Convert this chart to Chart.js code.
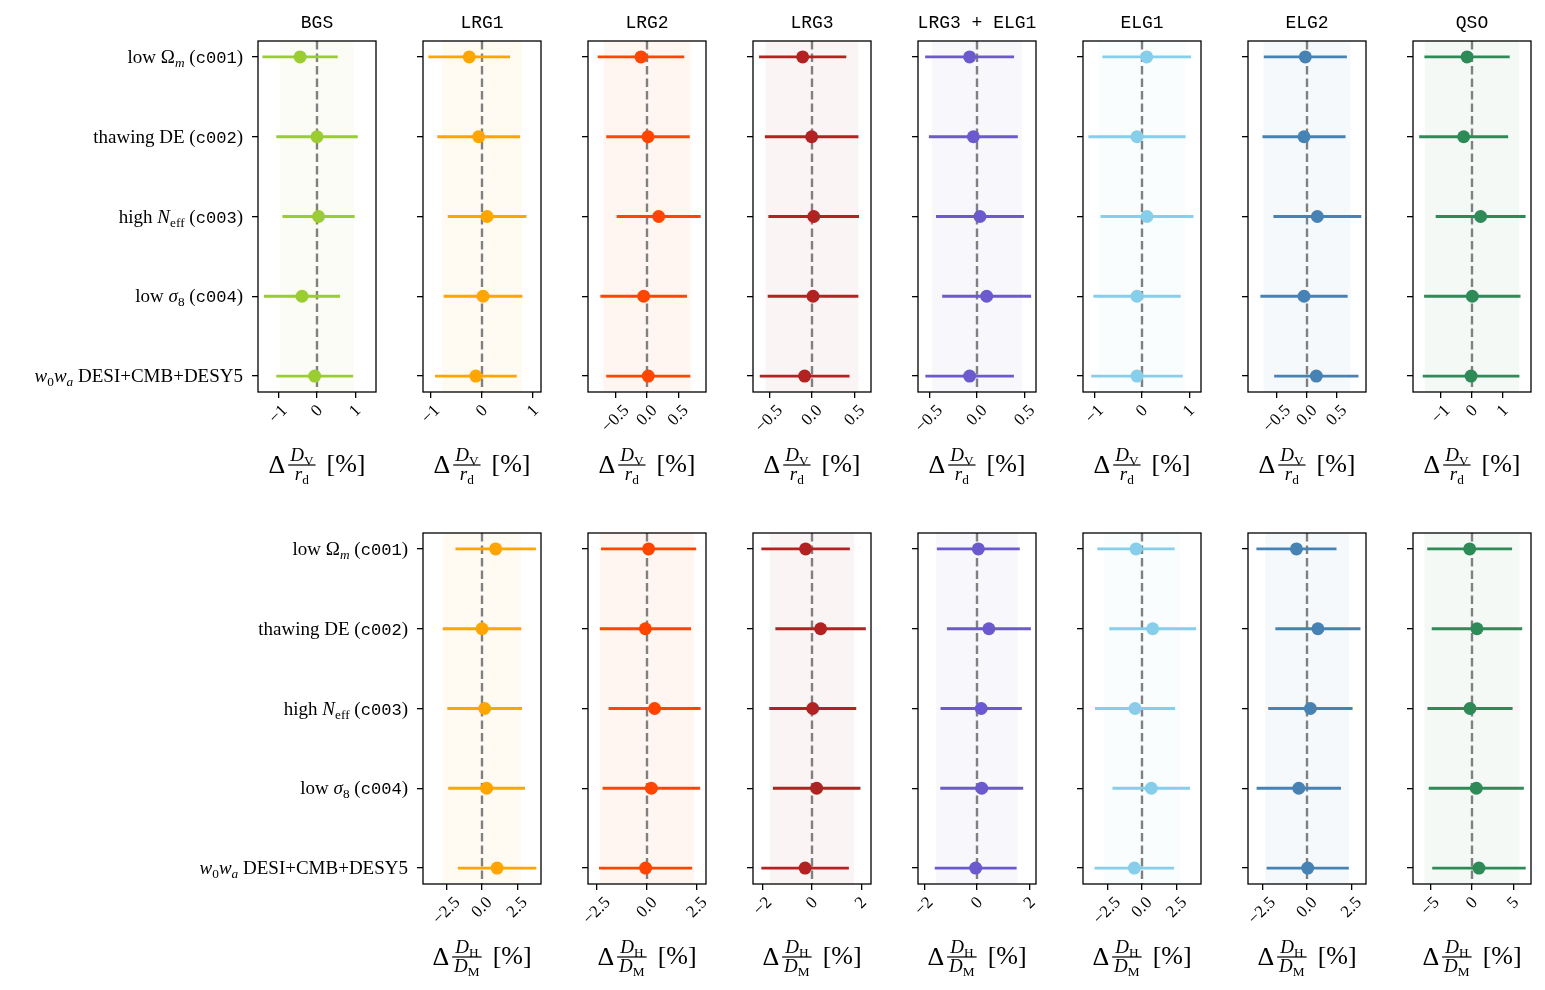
<!DOCTYPE html>
<html><head><meta charset="utf-8">
<script src="https://cdn.jsdelivr.net/npm/chart.js@4.4.1/dist/chart.umd.min.js"></script>
<style>
html,body{margin:0;padding:0;background:#fff;overflow:hidden;width:1545px;height:990px;position:relative}
canvas{position:absolute}
</style></head><body>
<script>
// ---------- categories / labels ----------
const categories = [
  'low Ω_{*m*} (`c001`)',
  'thawing DE (`c002`)',
  'high *N*_{eff} (`c003`)',
  'low *σ*_{8} (`c004`)',
  '*w*_{0}*w*_{*a*} DESI+CMB+DESY5'
];
const tracersTop = ['BGS','LRG1','LRG2','LRG3','LRG3 + ELG1','ELG1','ELG2','QSO'];
const tracersBottom = ['LRG1','LRG2','LRG3','LRG3 + ELG1','ELG1','ELG2','QSO'];
const xLabelTop = {num:'*D*_{V}', den:'*r*_{d}'};
const xLabelBottom = {num:'*D*_{H}', den:'*D*_{M}'};

// ---------- Δ(D_V/r_d) [%] : centres and 1σ errors ----------
const dvBGS = [-0.44, 0.00, 0.04, -0.39, -0.06];
const dvBGSErr = [0.98, 1.06, 0.94, 0.99, 1.00];
const dvLRG1 = [-0.25, -0.065, 0.10, 0.02, -0.12];
const dvLRG1Err = [0.80, 0.81, 0.77, 0.77, 0.80];
const dvLRG2 = [-0.096, 0.016, 0.186, -0.053, 0.02];
const dvLRG2Err = [0.69, 0.665, 0.67, 0.69, 0.67];
const dvLRG3 = [-0.109, -0.004, 0.02, 0.012, -0.086];
const dvLRG3Err = [0.51, 0.547, 0.53, 0.53, 0.525];
const dvLRG3ELG1 = [-0.077, -0.038, 0.031, 0.101, -0.077];
const dvLRG3ELG1Err = [0.465, 0.465, 0.46, 0.465, 0.463];
const dvELG1 = [0.10, -0.106, 0.106, -0.106, -0.106];
const dvELG1Err = [0.94, 1.03, 0.985, 0.925, 0.97];
const dvELG2 = [-0.028, -0.05, 0.173, -0.05, 0.156];
const dvELG2Err = [0.695, 0.695, 0.735, 0.73, 0.705];
const dvQSO = [-0.16, -0.27, 0.28, 0.01, -0.03];
const dvQSOErr = [1.38, 1.44, 1.455, 1.56, 1.565];
const dvLimit = [1.535, 1.155, 0.94, 0.69, 0.617, 1.25, 0.987, 1.91];
const dvBand = [0.955, 0.78, 0.695, 0.543, 0.47, 0.92, 0.726, 1.53];
const dvTicks = [[-1,0,1],[-1,0,1],[-0.5,0,0.5],[-0.5,0,0.5],[-0.5,0,0.5],[-1,0,1],[-0.5,0,0.5],[-1,0,1]];

// ---------- Δ(D_H/D_M) [%] ----------
const dhLRG1 = [0.97, 0.00, 0.19, 0.33, 1.07];
const dhLRG1Err = [2.85, 2.78, 2.65, 2.72, 2.78];
const dhLRG2 = [0.08, -0.08, 0.38, 0.22, -0.07];
const dhLRG2Err = [2.38, 2.28, 2.30, 2.44, 2.33];
const dhLRG3 = [-0.26, 0.35, 0.03, 0.19, -0.28];
const dhLRG3Err = [1.80, 1.84, 1.77, 1.78, 1.78];
const dhLRG3ELG1 = [0.05, 0.45, 0.16, 0.18, -0.05];
const dhLRG3ELG1Err = [1.57, 1.59, 1.54, 1.57, 1.55];
const dhELG1 = [-0.43, 0.77, -0.50, 0.67, -0.55];
const dhELG1Err = [2.78, 3.12, 2.88, 2.79, 2.86];
const dhELG2 = [-0.59, 0.61, 0.19, -0.46, 0.04];
const dhELG2Err = [2.24, 2.38, 2.36, 2.36, 2.30];
const dhQSO = [-0.28, 0.60, -0.24, 0.52, 0.84];
const dhQSOErr = [5.12, 5.46, 5.14, 5.74, 5.64];
const dhLimit = [4.18, 2.95, 2.40, 2.235, 4.24, 3.30, 7.12];
const dhBand = [2.74, 2.35, 1.72, 1.55, 2.73, 2.34, 5.72];
const dhTicks = [[-2.5,0,2.5],[-2.5,0,2.5],[-2,0,2],[-2,0,2],[-2.5,0,2.5],[-2.5,0,2.5],[-5,0,5]];

// ---------- colours ----------
const tracerColors = {
  'BGS':'#9ACD32','LRG1':'#FFA500','LRG2':'#FF4500','LRG3':'#B22222',
  'LRG3 + ELG1':'#6A5ACD','ELG1':'#87CEEB','ELG2':'#4682B4','QSO':'#2E8B57'
};

const dvCentres = [dvBGS, dvLRG1, dvLRG2, dvLRG3, dvLRG3ELG1, dvELG1, dvELG2, dvQSO];
const dvErrors = [dvBGSErr, dvLRG1Err, dvLRG2Err, dvLRG3Err, dvLRG3ELG1Err, dvELG1Err, dvELG2Err, dvQSOErr];
const dhCentres = [dhLRG1, dhLRG2, dhLRG3, dhLRG3ELG1, dhELG1, dhELG2, dhQSO];
const dhErrors = [dhLRG1Err, dhLRG2Err, dhLRG3Err, dhLRG3ELG1Err, dhELG1Err, dhELG2Err, dhQSOErr];

// ---------- rich text helpers ----------
const SERIF = '"Liberation Serif", "DejaVu Serif", serif';
const MONO = '"Liberation Mono", "DejaVu Sans Mono", monospace';
function parseRich(s){
  const segs=[]; let it=false, mono=false, sub=false, buf='';
  const push=()=>{ if(buf){ segs.push({t:buf,it,mono,sub}); buf=''; } };
  for(let i=0;i<s.length;i++){
    const ch=s[i];
    if(ch==='*'){ push(); it=!it; }
    else if(ch==='`'){ push(); mono=!mono; }
    else if(ch==='_' && s[i+1]==='{'){ push(); sub=true; i++; }
    else if(ch==='}' && sub){ push(); sub=false; }
    else buf+=ch;
  }
  push(); return segs;
}
function segFont(sg,size){
  const sz = sg.sub ? size*0.7 : size;
  if(sg.mono) return (sz*0.9).toFixed(2)+'px '+MONO;
  return (sg.it?'italic ':'')+sz.toFixed(2)+'px '+SERIF;
}
function richWidth(ctx,segs,size){
  let w=0; for(const sg of segs){ ctx.font=segFont(sg,size); w+=ctx.measureText(sg.t).width; } return w;
}
function drawRich(ctx,segs,x,y,size){
  ctx.textAlign='left'; ctx.textBaseline='alphabetic';
  let cx=x;
  for(const sg of segs){
    ctx.font=segFont(sg,size);
    ctx.fillText(sg.t, cx, y + (sg.sub ? size*0.22 : 0));
    cx+=ctx.measureText(sg.t).width;
  }
}
function fmtTick(v,arr){
  const dec=Math.max(...arr.map(t=>(String(t).split('.')[1]||'').length));
  return (v<0?'\u2212':'')+Math.abs(v).toFixed(dec);
}
function hexA(hex,a){
  const n=parseInt(hex.slice(1),16);
  return `rgba(${(n>>16)&255},${(n>>8)&255},${n&255},${a})`;
}

// ---------- panel factory ----------
function makePanel(p){
  const MR=14, TOP=40, BOT=100;
  const W=p.ML+p.plotW+MR, H=TOP+p.plotH+BOT;
  const cv=document.createElement('canvas');
  cv.width=W; cv.height=H;
  cv.style.left=(p.left-p.ML)+'px'; cv.style.top=(p.top-TOP)+'px';
  cv.style.width=W+'px'; cv.style.height=H+'px';
  document.body.appendChild(cv);
  const col=tracerColors[p.tracer];

  const datasets=[];
  datasets.push({label:p.tracer, data:p.centres.map((c,i)=>({x:c,y:i})),
    backgroundColor:col, borderColor:col, pointBackgroundColor:col, pointBorderColor:col,
    pointRadius:6.5, pointBorderWidth:0, showLine:false, order:0});
  p.centres.forEach((c,i)=>{
    datasets.push({label:p.tracer+' err '+i, data:[{x:c-p.errs[i],y:i},{x:c+p.errs[i],y:i}],
      borderColor:col, backgroundColor:col, borderWidth:2.8, pointRadius:0, showLine:true,
      borderCapStyle:'butt', order:1});
  });
  datasets.push({label:'zero', data:[{x:0,y:-0.2},{x:0,y:4.2}], borderColor:'#808080',
    borderWidth:2.4, borderDash:[8.5,4], pointRadius:0, showLine:true, order:2});

  const decor={
    id:'decor',
    beforeDatasetsDraw(chart){
      const {ctx, chartArea:a, scales:{x}}=chart;
      const x1=x.getPixelForValue(-p.band), x2=x.getPixelForValue(p.band);
      ctx.save(); ctx.fillStyle=hexA(col,0.05);
      ctx.fillRect(x1,a.top,x2-x1,a.bottom-a.top); ctx.restore();
    },
    afterDraw(chart){
      const {ctx, chartArea:a, scales:{x,y}}=chart;
      ctx.save();
      // frame
      ctx.strokeStyle='#000'; ctx.lineWidth=1.3;
      ctx.strokeRect(a.left,a.top,a.right-a.left,a.bottom-a.top);
      ctx.fillStyle='#000';
      const cx=(a.left+a.right)/2;
      // title (top row only)
      if(p.showTitle){
        ctx.font='18px '+MONO; ctx.textAlign='center'; ctx.textBaseline='middle';
        ctx.fillText(p.tracer, cx, a.top-18);
      }
      // x tick labels (rotated 45°)
      ctx.font='17px '+SERIF;
      for(const t of x.ticks){
        const px=x.getPixelForValue(t.value);
        const lab=fmtTick(t.value,p.ticks);
        const w=ctx.measureText(lab).width, h=17;
        const half=(w+h)*0.3536;
        ctx.save(); ctx.translate(px, a.bottom+10+half); ctx.rotate(-Math.PI/4);
        ctx.textAlign='center'; ctx.textBaseline='middle'; ctx.fillText(lab,0,0); ctx.restore();
      }
      // x axis label: Δ frac [%]
      const big=26, fr=19, barY=a.bottom+73;
      const num=parseRich(p.xlabel.num), den=parseRich(p.xlabel.den);
      ctx.font=big+'px '+SERIF;
      const wD=ctx.measureText('\u0394').width, wB=ctx.measureText('[%]').width;
      const wN=richWidth(ctx,num,fr), wDn=richWidth(ctx,den,fr);
      const wF=Math.max(wN,wDn)+4, g1=3, g2=11;
      const tot=wD+g1+wF+g2+wB;
      let x0=cx-tot/2;
      ctx.font=big+'px '+SERIF; ctx.textAlign='left'; ctx.textBaseline='alphabetic';
      ctx.fillText('\u0394', x0, barY+8);
      const fx=x0+wD+g1;
      ctx.fillRect(fx, barY-0.6, wF, 1.2);
      drawRich(ctx,num,fx+(wF-wN)/2,barY-4,fr);
      drawRich(ctx,den,fx+(wF-wDn)/2,barY+15,fr);
      ctx.font=big+'px '+SERIF; ctx.textAlign='left'; ctx.textBaseline='alphabetic';
      ctx.fillText('[%]', fx+wF+g2, barY+7);
      // y labels
      if(p.showY){
        categories.forEach((c,i)=>{
          const segs=parseRich(c);
          const w=richWidth(ctx,segs,19);
          drawRich(ctx,segs,a.left-15-w,y.getPixelForValue(i)+6,19);
        });
      }
      ctx.restore();
    }
  };

  const gridOpt={drawOnChartArea:false, drawTicks:true, tickLength:6, color:'#000', tickColor:'#000', lineWidth:1.3, tickWidth:1.3};
  new Chart(cv,{
    type:'scatter',
    data:{datasets},
    options:{
      responsive:false, animation:false, devicePixelRatio:1, events:[],
      layout:{padding:{left:0,right:MR,top:TOP,bottom:0}},
      plugins:{legend:{display:false}, tooltip:{enabled:false}, title:{display:false}},
      scales:{
        x:{type:'linear', position:'bottom', min:-p.xlim, max:p.xlim,
           ticks:{display:false}, grid:gridOpt, border:{display:false},
           afterBuildTicks:(s)=>{ s.ticks=p.ticks.map(v=>({value:v})); },
           afterFit:(s)=>{ s.height=BOT; }},
        y:{type:'linear', position:'left', min:-0.2, max:4.2, reverse:true,
           ticks:{display:false}, grid:gridOpt, border:{display:false},
           afterBuildTicks:(s)=>{ s.ticks=categories.map((_,i)=>({value:i})); },
           afterFit:(s)=>{ s.width=p.ML; }}
      }
    },
    plugins:[decor]
  });
}

// ---------- build the grid of panels ----------
tracersTop.forEach((tr,i)=>{
  const left=258+165*i;
  makePanel({left, top:41, plotW:118, plotH:351, ML:(i===0?left-2:10), tracer:tr,
    centres:dvCentres[i], errs:dvErrors[i], xlim:dvLimit[i], band:dvBand[i], ticks:dvTicks[i],
    xlabel:xLabelTop, showY:i===0, showTitle:true});
});
tracersBottom.forEach((tr,j)=>{
  const left=423+165*j;
  makePanel({left, top:533, plotW:118, plotH:351, ML:(j===0?left-2:10), tracer:tr,
    centres:dhCentres[j], errs:dhErrors[j], xlim:dhLimit[j], band:dhBand[j], ticks:dhTicks[j],
    xlabel:xLabelBottom, showY:j===0, showTitle:false});
});
</script>
</body></html>
